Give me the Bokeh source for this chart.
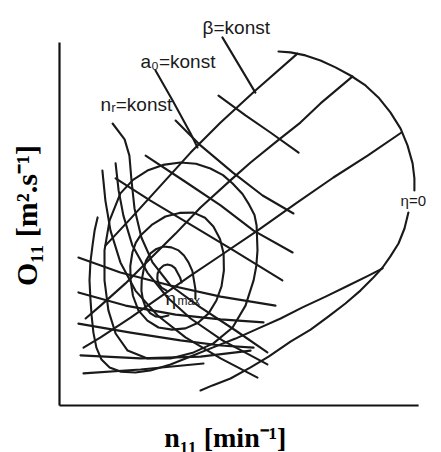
import math
from bokeh.plotting import figure
from bokeh.models import Range1d
from bokeh.core.properties import value
from bokeh.embed import file_html
from bokeh.resources import INLINE

# Hill chart of a Kaplan turbine, drawn in relative units of n11 (x) and Q11 (y)

# extent of the two axes
axis_x_end = 119.7
axis_y_end = 121.0

# eta = 0 boundary (runaway line), split where its label sits
eta0_upper_x = [73.0, 77.0, 82.0, 87.0, 92.0, 97.0, 102.0, 106.3, 110.3, 113.7, 116.0, 117.7, 118.3, 118.3]
eta0_upper_y = [118.0, 117.7, 116.7, 115.0, 112.7, 110.0, 106.7, 102.7, 97.7, 92.3, 86.7, 80.7, 75.7, 71.7]
eta0_lower_x = [116.3, 115.0, 113.0, 110.3, 107.7, 104.3, 100.3, 95.3, 89.7, 83.7, 77.0, 69.7, 63.7, 57.0, 51.0, 47.0]
eta0_lower_y = [64.3, 59.0, 54.0, 49.7, 46.0, 42.3, 38.3, 34.0, 29.7, 25.3, 21.3, 16.3, 12.7, 9.0, 6.7, 5.0]

# efficiency contours (outermost is open and runs into the boundary)
eff1_x = [12.7, 11.7, 11.0, 10.3, 10.0, 10.3, 10.7, 11.3, 12.3, 14.0, 16.7, 20.3, 25.3, 30.3, 37.0, 43.7, 51.0, 58.7, 66.3, 73.7, 81.0, 88.7, 96.3, 103.0, 107.7]
eff1_y = [62.7, 58.3, 53.3, 47.7, 41.7, 35.7, 30.0, 24.3, 19.3, 15.3, 12.7, 11.3, 11.0, 11.7, 13.7, 16.3, 19.3, 22.3, 25.7, 29.0, 32.7, 36.3, 40.0, 43.3, 45.7]
eff2_x = [20.3, 24.5, 29.3, 34.5, 40.3, 45.5, 50.3, 54.5, 57.7, 61.0, 63.0, 65.0, 65.7, 66.0, 65.6, 64.7, 62.0, 57.7, 51.3, 44.7, 37.0, 29.3, 22.7, 18.7, 16.3, 15.0, 15.0, 16.7, 20.3]
eff2_y = [70.7, 75.2, 78.3, 80.2, 81.0, 80.6, 79.0, 76.8, 74.0, 70.5, 67.3, 63.5, 60.0, 51.7, 46.5, 41.7, 33.3, 26.0, 20.7, 17.7, 15.7, 15.7, 18.3, 24.0, 31.7, 41.7, 51.7, 61.7, 70.7]
eff3_x = [27.0, 31.0, 35.3, 40.0, 44.7, 48.5, 51.3, 53.5, 54.7, 54.8, 54.0, 52.3, 49.7, 46.2, 42.0, 37.5, 33.0, 29.3, 26.3, 24.5, 23.7, 23.6, 24.3, 25.4, 27.0]
eff3_y = [56.7, 60.4, 63.0, 64.2, 64.3, 62.6, 59.7, 55.5, 50.7, 45.0, 39.7, 35.0, 30.7, 27.6, 25.7, 25.3, 26.0, 28.3, 31.7, 36.5, 41.7, 46.5, 51.0, 54.2, 56.7]
eff4_x = [45.3, 45.3, 44.3, 43.0, 41.5, 39.7, 37.3, 34.7, 32.3, 30.3, 28.8, 28.0, 27.4, 27.3, 27.8, 28.7, 30.2, 32.0, 34.2, 36.3]
eff4_y = [35.7, 38.8, 44.8, 47.7, 50.0, 51.7, 52.7, 53.0, 52.2, 50.7, 48.2, 45.0, 41.7, 38.3, 35.3, 32.7, 30.8, 29.7, 29.5, 30.0]
eff5_x = [35.7, 34.0, 33.0, 32.6, 32.7, 33.5, 34.7, 36.0, 37.3, 38.5, 39.3, 40.2, 40.7]
eff5_y = [38.3, 39.3, 40.7, 42.3, 44.0, 45.6, 46.7, 47.0, 46.7, 45.8, 44.3, 42.7, 41.0]

# beta = const (blade angle)
beta1_x = [79.3, 65.3, 53.7, 43.7, 33.7, 23.7, 15.3]
beta1_y = [117.3, 105.0, 94.3, 84.3, 73.3, 62.3, 53.3]
beta2_x = [97.7, 87.0, 80.3, 72.7, 63.7, 57.7, 47.0, 38.7, 30.3, 22.0, 13.7, 8.7]
beta2_y = [109.7, 100.7, 94.3, 88.3, 81.0, 75.7, 66.0, 57.3, 49.0, 40.7, 33.3, 29.0]
beta3_x = [114.0, 102.7, 91.3, 78.7, 66.0, 53.7, 43.7, 33.7, 23.7, 13.7, 8.0]
beta3_y = [91.0, 83.3, 76.0, 67.3, 58.3, 50.0, 43.3, 36.3, 29.3, 22.7, 19.3]

# a0 = const (guide vane opening)
a0_1_x = [53.0, 62.0, 70.3, 79.7]
a0_1_y = [103.3, 96.7, 91.0, 84.3]
a0_2_x = [38.7, 47.0, 57.7, 67.7, 78.0]
a0_2_y = [95.0, 86.7, 77.7, 70.0, 64.0]
a0_3_x = [28.7, 41.3, 53.7, 64.7, 77.7]
a0_3_y = [83.3, 75.0, 66.7, 58.3, 51.0]
a0_4_x = [18.7, 30.3, 43.7, 58.0, 74.3]
a0_4_y = [75.7, 68.3, 60.3, 51.7, 41.7]
a0_5_x = [6.3, 20.3, 37.0, 53.7, 72.0]
a0_5_y = [49.3, 44.3, 40.0, 36.3, 33.3]
a0_6_x = [6.3, 22.0, 38.7, 53.7, 68.0]
a0_6_y = [37.7, 33.3, 30.3, 28.7, 27.7]
a0_7_x = [6.3, 23.7, 40.3, 53.7, 64.7]
a0_7_y = [27.3, 24.3, 21.7, 20.0, 19.3]
a0_8_x = [7.0, 27.0, 47.0, 63.7]
a0_8_y = [16.7, 15.7, 16.3, 18.3]
a0_9_x = [8.0, 27.0, 48.0]
a0_9_y = [10.7, 12.0, 14.0]

# n_r = const (runner speed)
nr1_x = [17.7, 21.7, 23.3, 24.0, 25.0, 27.3, 31.0, 37.0, 47.0, 58.7, 69.3]
nr1_y = [94.0, 88.7, 83.3, 75.0, 65.7, 56.0, 47.7, 40.0, 32.7, 25.0, 17.7]
nr2_x = [18.7, 19.7, 21.3, 24.3, 29.3, 36.0, 43.7, 54.3, 69.3]
nr2_y = [80.7, 71.7, 63.3, 53.3, 44.3, 36.0, 29.0, 21.7, 13.7]
nr3_x = [14.3, 15.3, 17.0, 20.3, 25.3, 32.7, 42.0, 53.7, 66.0]
nr3_y = [78.3, 68.3, 58.3, 47.7, 38.3, 30.0, 22.7, 15.7, 9.3]

# leader lines from the family labels
beta_lead_x = [54.3, 65.3]
beta_lead_y = [122.7, 104.3]
a0_lead_x = [32.0, 37.7, 43.7, 46.0]
a0_lead_y = [111.7, 101.7, 90.7, 86.0]

# label texts and anchors
family_labels = ["β=konst", "a₀=konst", "nᵣ=konst"]
family_label_x = [47.7, 27.0, 13.7]
family_label_y = [126.0, 114.7, 100.3]
x_title = "n₁₁ [min⁻¹]"
y_title = "O₁₁ [m².s⁻¹]"

INK = "#1a1a1a"

p = figure(width=441, height=452, title=None,
           x_range=Range1d(-59 / 3, 382 / 3), y_range=Range1d(-47 / 3, 135),
           x_axis_type=None, y_axis_type=None,
           output_backend="svg", toolbar_location=None,
           min_border=0)
p.background_fill_color = "white"
p.border_fill_color = "white"
p.outline_line_color = None

# plain axis lines without ticks
p.line([0, axis_x_end], [0, 0], line_color="#111111", line_width=2.2)
p.line([0, 0], [0, axis_y_end], line_color="#111111", line_width=2.2)

curves = [
    (eta0_upper_x, eta0_upper_y), (eta0_lower_x, eta0_lower_y),
    (eff1_x, eff1_y), (eff2_x, eff2_y), (eff3_x, eff3_y),
    (eff4_x, eff4_y), (eff5_x, eff5_y),
    (beta1_x, beta1_y), (beta2_x, beta2_y), (beta3_x, beta3_y),
    (a0_1_x, a0_1_y), (a0_2_x, a0_2_y), (a0_3_x, a0_3_y),
    (a0_4_x, a0_4_y), (a0_5_x, a0_5_y), (a0_6_x, a0_6_y),
    (a0_7_x, a0_7_y), (a0_8_x, a0_8_y), (a0_9_x, a0_9_y),
    (nr1_x, nr1_y), (nr2_x, nr2_y), (nr3_x, nr3_y),
    (beta_lead_x, beta_lead_y), (a0_lead_x, a0_lead_y),
]
for xs, ys in curves:
    p.line(xs, ys, line_color=INK, line_width=2.1,
           line_join="round", line_cap="round")

sans = value("Liberation Sans")
p.text(x=family_label_x, y=family_label_y, text=family_labels,
       text_font=sans, text_font_size="19px", text_color=INK,
       text_baseline="middle", text_align="left")
p.text(x=[113.7], y=[68.3], text=["η=0"], text_font=sans,
       text_font_size="15px", text_color=INK,
       text_baseline="middle", text_align="left")
p.text(x=[35.3], y=[35.7], text=["η"], text_font=sans,
       text_font_size="19px", text_color=INK,
       text_baseline="middle", text_align="left")
p.text(x=[39.3], y=[34.7], text=["max"], text_font=sans,
       text_font_size="12px", text_color=INK,
       text_baseline="middle", text_align="left")

# axis titles
serif = value("Liberation Serif")
p.text(x=[-11.0], y=[63.3], text=[y_title], angle=math.pi / 2,
       text_font=serif, text_font_style="bold", text_font_size="30px",
       text_color="black", text_align="center", text_baseline="middle")
p.text(x=[55.3], y=[-10.7], text=[x_title],
       text_font=serif, text_font_style="bold", text_font_size="28px",
       text_color="black", text_align="center", text_baseline="middle")

open("out.html", "w").write(file_html(p, INLINE))
